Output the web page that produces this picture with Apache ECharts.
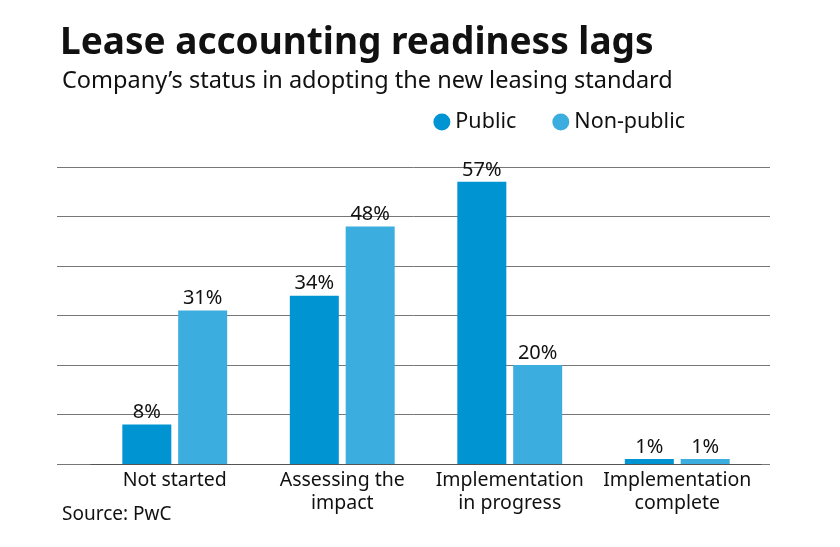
<!DOCTYPE html>
<html><head><meta charset="utf-8">
<script src="https://cdn.jsdelivr.net/npm/echarts@6/dist/echarts.min.js"></script>
<style>html,body{margin:0;background:#fff}#c{width:840px;height:547px}</style>
</head><body><div id="c"></div>
<script>
const categories = ['Not started', 'Assessing the\nimpact', 'Implementation\nin progress', 'Implementation\ncomplete'];
const publicVals = [8, 34, 57, 1];
const nonPublicVals = [31, 48, 20, 1];

const font = '"Noto Sans", sans-serif';
const chart = echarts.init(document.getElementById('c'));
const lbl = {show: true, position: 'top', color: '#111', fontSize: 20, fontFamily: font, formatter: '{c}%', distance: 2};
chart.setOption({
    title: [
        {text: 'Lease accounting readiness lags', left: 55, top: 20, textStyle: {fontSize: 37, fontWeight: 'bold', fontFamily: font, color: '#111'}},
        {text: 'Company\u2019s status in adopting the new leasing standard', left: 57, top: 64, textStyle: {fontSize: 23.5, fontWeight: 'normal', fontFamily: font, color: '#111'}},
        {text: 'Source: PwC', left: 57, top: 500, textStyle: {fontSize: 19, fontWeight: 'normal', fontFamily: font, color: '#111'}}
    ],
    legend: {right: 150, top: 106, icon: 'circle', itemWidth: 17, itemHeight: 17, itemGap: 36,
        textStyle: {fontSize: 21.5, fontFamily: font, color: '#111'}},
    grid: [
        {left: 57, right: 70, top: 167, bottom: 83},
        {left: 91, right: 79, top: 167, bottom: 83}
    ],
    xAxis: [
        {gridIndex: 0, type: 'value', show: false},
        {gridIndex: 1, type: 'category', data: categories,
            axisLine: {lineStyle: {color: '#555'}}, axisTick: {show: false},
            axisLabel: {interval: 0, fontSize: 19.5, fontFamily: font, color: '#111', lineHeight: 23, margin: 5}}
    ],
    yAxis: [
        {gridIndex: 0, type: 'value', min: 0, max: 60, interval: 10, axisLabel: {show: false},
            axisLine: {show: false}, axisTick: {show: false}, splitLine: {lineStyle: {color: '#777'}}},
        {gridIndex: 1, type: 'value', min: 0, max: 60, interval: 10, show: false, splitLine: {show: false}}
    ],
    series: [
        {name: 'Public', type: 'bar', xAxisIndex: 1, yAxisIndex: 1, data: publicVals,
            barWidth: 49, barGap: '14%', itemStyle: {color: '#0094d2'}, label: lbl},
        {name: 'Non-public', type: 'bar', xAxisIndex: 1, yAxisIndex: 1, data: nonPublicVals,
            barWidth: 49, itemStyle: {color: '#3badde'}, label: lbl}
    ]
});
</script></body></html>
